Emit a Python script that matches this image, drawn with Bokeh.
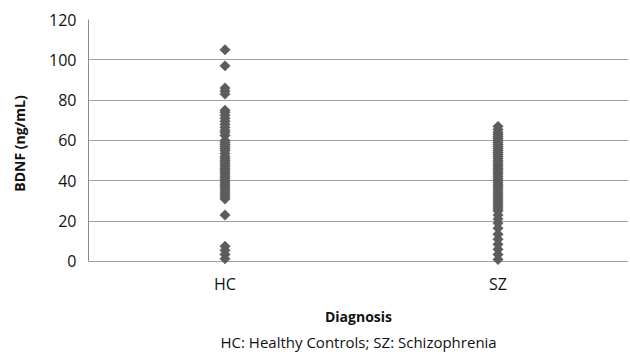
import numpy as np
from bokeh.plotting import figure
from bokeh.models import Range1d, FixedTicker, ColumnDataSource, Title
from bokeh.embed import file_html
from bokeh.resources import INLINE

categories = ["HC", "SZ"]
hc_values = [105, 97, 86, 84.5, 83, 75, 74, 72.5, 71, 69.5, 68, 66.5, 65, 64, 62.5,
             60, 59, 58, 57, 56, 55, 53.5, 52, 51, 50, 49, 48, 47, 46, 45, 44, 43,
             42, 41, 40, 39, 38, 37, 36, 35, 34, 33, 32, 31, 23, 7.5, 5.5, 3.5, 1.3]
sz_values = [67, 65.5, 64, 63, 62, 61, 60, 59, 58, 57, 56, 55, 54, 53, 52, 51, 50,
             49, 48, 47, 46, 45, 44, 43, 42, 41, 40, 39, 38, 37, 36, 35, 34, 33, 32,
             31, 30, 29, 28, 27, 26, 25, 23, 21, 19, 16.5, 13.5, 11, 8.5, 6, 3.5, 1]
y_ticks = [0, 20, 40, 60, 80, 100, 120]
x_title = "Diagnosis"
y_title = "BDNF (ng/mL)"
footnote = "HC: Healthy Controls; SZ: Schizophrenia"

xs, ys = [], []
for i, vals in enumerate([hc_values, sz_values]):
    for v in vals:
        xs.append(i + 0.5)
        ys.append(v)
src = ColumnDataSource(dict(x=xs, y=ys))

p = figure(width=628, height=352, output_backend="svg", toolbar_location=None,
           x_range=Range1d(0, 1.978), y_range=Range1d(-3, 120),
           min_border_left=88, min_border_right=0, min_border_top=19,
           min_border_bottom=0)
p.outline_line_color = None
p.background_fill_color = "white"

p.scatter("x", "y", source=src, marker="square", angle=np.pi / 4, size=7.4,
          fill_color="#5c5c5c", line_color="#5c5c5c", line_width=0.5)

font = "Open Sans"
# y axis
yax = p.yaxis[0]
yax.ticker = FixedTicker(ticks=y_ticks)
yax.bounds = (0, 120)
yax.major_tick_in = 0
yax.major_tick_out = 0
yax.minor_tick_in = 0
yax.minor_tick_out = 0
yax.axis_line_color = "#8c8c8c"
yax.major_label_text_font = font
yax.major_label_text_font_size = "16px"
yax.major_label_text_color = "#111111"
yax.major_label_standoff = 12
yax.axis_label = y_title
yax.axis_label_text_font = font
yax.axis_label_text_font_style = "bold"
yax.axis_label_text_font_size = "14px"
yax.axis_label_text_color = "#111111"
yax.axis_label_standoff = 17

# x axis (the gridline at 0 acts as axis line)
xax = p.xaxis[0]
xax.ticker = FixedTicker(ticks=[0.5, 1.5])
xax.major_label_overrides = {0.5: categories[0], 1.5: categories[1]}
xax.major_tick_in = 0
xax.major_tick_out = 0
xax.minor_tick_in = 0
xax.minor_tick_out = 0
xax.axis_line_color = None
xax.major_label_text_font = font
xax.major_label_text_font_size = "16px"
xax.major_label_text_color = "#111111"
xax.major_label_standoff = 5
xax.axis_label = x_title
xax.axis_label_text_font = font
xax.axis_label_text_font_style = "bold"
xax.axis_label_text_font_size = "14px"
xax.axis_label_text_color = "#111111"
xax.axis_label_standoff = 9

p.xgrid.visible = False
p.ygrid.ticker = FixedTicker(ticks=y_ticks)
p.ygrid.grid_line_color = "#a0a0a0"
p.ygrid.grid_line_width = 1

p.add_layout(Title(text=footnote, align="left", offset=132, standoff=2,
                   text_font=font, text_font_size="15px", text_font_style="normal",
                   text_color="#111111"), "below")

open("out.html", "w").write(file_html(p, INLINE))
